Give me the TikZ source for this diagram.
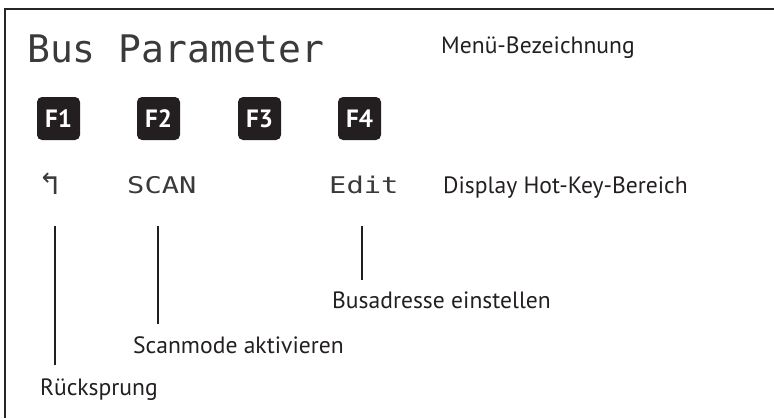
\documentclass[tikz,border=0pt]{standalone}
\usepackage{fontspec}
\setmainfont{PT Sans}
\newfontfamily\lcdfont{DejaVu Sans Mono}
\newfontfamily\lcdwide[FakeStretch=1.25]{DejaVu Sans Mono}
\definecolor{keyblack}{HTML}{231F20}
\definecolor{lcdgray}{HTML}{3A3A3A}
\tikzset{
  fkey/.style = {fill = keyblack, rounded corners = 5pt, minimum size = 43pt, inner sep = 0pt,
    text = white, font = \fontsize{25}{25}\selectfont\bfseries},
  note/.style = {anchor = base west, inner sep = 0pt, text = keyblack, font = \fontsize{23.6}{24}\selectfont},
  hotkey/.style = {anchor = base west, inner sep = 0pt, text = lcdgray, font = \lcdwide\fontsize{23}{23}\selectfont},
  pointer/.style = {line width = 2pt, draw = keyblack}
}

\begin{document}
\begin{tikzpicture}[x = 1pt, y = -1pt]
\useasboundingbox (0,0) rectangle (774,418);
\draw[line width = 2pt, black!85] (774,9) -- (5,9) -- (5,418);

% Menu title
\node[anchor = base west, inner sep = 0pt, text = lcdgray, font = \lcdfont\fontsize{38}{38}\selectfont] (title) at (27,62) {Bus Parameter};
\node[note] (menu) at (441,53) {Menü-Bezeichnung};

% function keys
\node[fkey] (f1) at (58.5,118.5) {F1};
\node[fkey] (f2) at (158.5,118.5) {F2};
\node[fkey] (f3) at (259.5,118.5) {F3};
\node[fkey] (f4) at (359.5,118.5) {F4};

% hot keys
\node[hotkey, font = \lcdfont\fontsize{32}{32}\selectfont] (back) at (40,194) {↰};
\node[hotkey] (scan) at (127,193) {SCAN};
\node[hotkey] (edit) at (329,193) {Edit};
\node[note] (hotarea) at (443,193) {Display Hot-Key-Bereich};

% explanations
\node[note] (bus) at (332,308) {Busadresse einstellen};
\node[note] (scanmode) at (133,353) {Scanmode aktivieren};
\node[note] (rueck) at (40,395) {Rücksprung};

\coordinate (b1) at (55,226);
\coordinate (b2) at (55,365);
\coordinate (s1) at (158,226);
\coordinate (s2) at (158,324);
\coordinate (e1) at (362,226);
\coordinate (e2) at (362,280);
\draw[pointer] (b1) -- (b2);
\draw[pointer] (s1) -- (s2);
\draw[pointer] (e1) -- (e2);

\end{tikzpicture}
\end{document}
